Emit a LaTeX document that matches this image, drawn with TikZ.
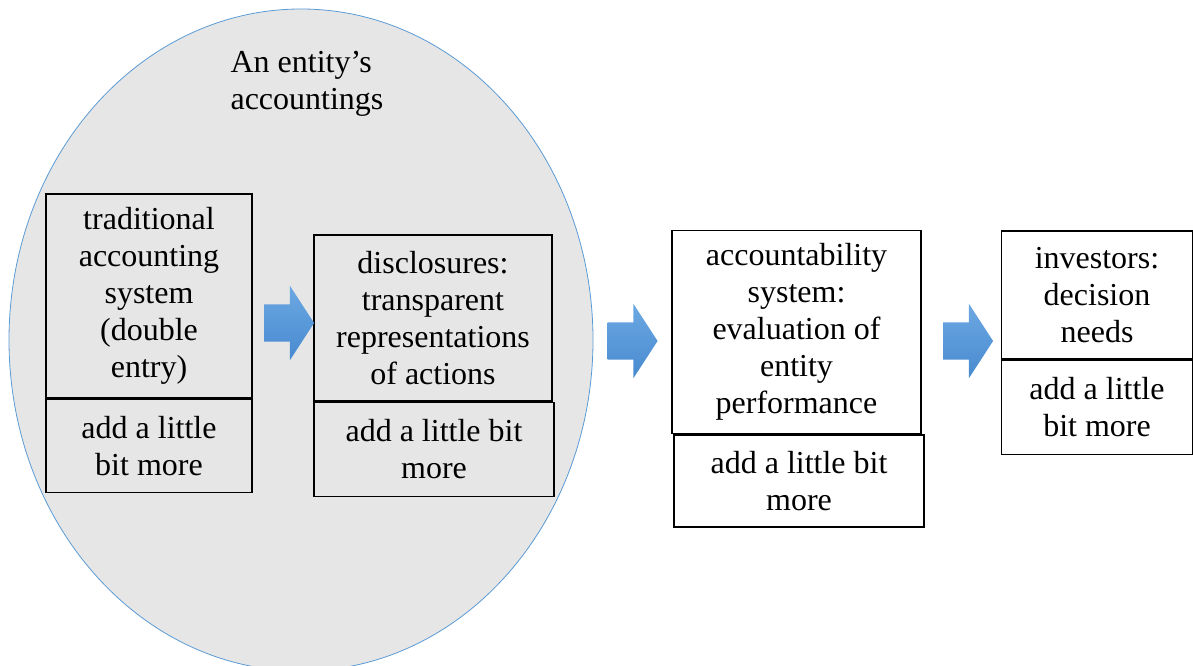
\documentclass[tikz,border=0pt]{standalone}
\usepackage{fontspec}
\setmainfont{Liberation Serif}
\usetikzlibrary{positioning,shapes.arrows}

\definecolor{circfill}{RGB}{230,230,230}
\definecolor{circline}{RGB}{91,155,213}
\definecolor{arrtop}{RGB}{108,168,226}
\definecolor{arrbot}{RGB}{72,138,208}

\tikzset{
    box/.style={draw=black, line width=1.5pt, align=center, inner sep=0pt,
        font=\fontsize{32}{37}\selectfont},
    flowarrow/.style={single arrow, draw=none, top color=arrtop, bottom color=arrbot,
        minimum height=50pt, inner xsep=0pt, inner ysep=18.5pt,
        single arrow head extend=18.5pt, single arrow tip angle=114}
}

\begin{document}
\begin{tikzpicture}[x=1pt, y=-1pt]
    \useasboundingbox (0,0) rectangle (1193,666);
    \fill[circfill, draw=circline, line width=0.8pt] (301,340) ellipse [x radius=292, y radius=331];
    \node[align=left, font=\fontsize{32}{37}\selectfont] (title) at (307,84) {An entity’s\\accountings};

    \node[box, minimum width=206pt, minimum height=204pt] (trad) at (149,296)
        {traditional\\accounting\\system\\(double\\entry)};
    \node[box, minimum width=206pt, minimum height=93pt, below=0pt of trad] (tradmore)
        {add a little\\bit more};

    \node[box, minimum width=238pt, minimum height=166pt] (discl) at (433,318)
        {disclosures:\\transparent\\representations\\of actions};
    \node[box, minimum width=240pt, minimum height=94pt, below=0pt of discl, xshift=1pt] (disclmore)
        {add a little bit\\more};

    \node[box, minimum width=249pt, minimum height=203pt] (acct) at (796.5,332)
        {accountability\\system:\\evaluation of\\entity\\performance};
    \node[box, minimum width=250pt, minimum height=92pt, below=0pt of acct, xshift=2.5pt] (acctmore)
        {add a little bit\\more};

    \node[box, minimum width=191pt, minimum height=128pt] (inv) at (1097,295)
        {investors:\\decision\\needs};
    \node[box, minimum width=191pt, minimum height=94pt, below=0pt of inv] (invmore)
        {add a little\\bit more};

    \node[flowarrow] (arr1) at (283,323) {};
    \node[flowarrow] (arr2) at (626.5,341) {};
    \node[flowarrow] (arr3) at (962,341) {};
\end{tikzpicture}
\end{document}
